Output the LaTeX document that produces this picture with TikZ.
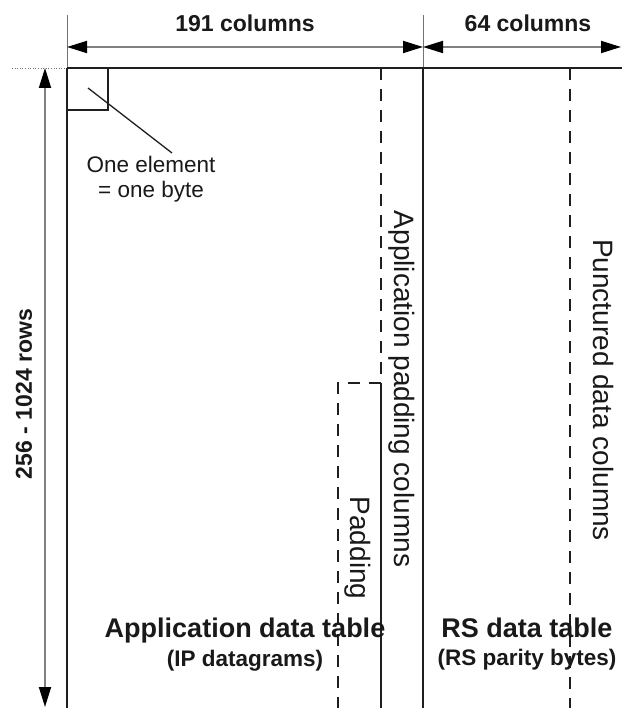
\documentclass[tikz,border=0pt]{standalone}
\usepackage{fontspec}
\setmainfont{Liberation Sans}
\usetikzlibrary{arrows.meta}
\begin{document}
\begin{tikzpicture}[x=1pt,y=-1pt,
  >={Triangle[length=20pt,width=12pt,color=black]},
  tblline/.style={draw=black!88, line width=2.4pt},
  thinline/.style={draw=black!88, line width=1.8pt},
  dashline/.style={draw=black!88, line width=2.2pt, dash pattern=on 12pt off 9pt},
  dimline/.style={draw=black!50, line width=1.8pt, <->},
  extline/.style={draw=black!55, line width=0.6pt},
  lbl/.style={inner sep=0pt, text=black!90},
  bigsz/.style={font=\fontsize{27}{30}\selectfont\bfseries},
  midsz/.style={font=\fontsize{23}{25}\selectfont\bfseries},
  subsz/.style={font=\fontsize{22.5}{25}\selectfont\bfseries},
  notesz/.style={font=\fontsize{22.5}{25}\selectfont},
  colsz/.style={font=\fontsize{28}{30}\selectfont}
]
\useasboundingbox (0,0) rectangle (622,708);
\fill[white] (0,0) rectangle (622,708);

% reference coordinates
\coordinate (tl) at (67,68);
\coordinate (tr) at (622,68);
\coordinate (bl) at (67,708);
\coordinate (mt) at (423,68);
\coordinate (mb) at (423,708);

% extension lines
\draw[extline] (67,15) -- (tl);
\draw[extline] (423,15) -- (mt);
\draw[extline, dotted] (12,68) -- (tl);

% dimension arrows
\coordinate (a1) at (67,47);
\coordinate (a2) at (423,47);
\coordinate (a3) at (621,47);
\draw[dimline] (a1) -- (a2);
\draw[dimline] (a2) -- (a3);
\coordinate (v1) at (45,68);
\coordinate (v2) at (45,707);
\draw[dimline] (v1) -- (v2);

% table frame
\draw[tblline] (tl) -- (tr);
\draw[tblline] (tl) -- (bl);
\draw[tblline, line width=2.8pt] (mt) -- (mb);

% element box and leader
\draw[thinline, line width=1.5pt] (67,110) -- (108,110) -- (108,68);
\coordinate (l1) at (88,88);
\coordinate (l2) at (172,153);
\draw[thinline, line width=1.3pt] (l1) -- (l2);

% application padding column
\coordinate (p1) at (381,68);
\coordinate (p2) at (381,383);
\coordinate (p3) at (381,708);
\draw[dashline] (p1) -- (p2);
\draw[thinline] (p2) -- (p3);
% padding box
\coordinate (q1) at (338,383);
\coordinate (q2) at (338,708);
\draw[dashline] (p2) -- (q1) -- (q2);

% punctured data column
\coordinate (r1) at (570,68);
\coordinate (r2) at (570,708);
\draw[dashline] (r1) -- (r2);

% labels
\node[lbl, midsz] (c191) at (245,23) {191 columns};
\node[lbl, midsz] (c64) at (528,23) {64 columns};
\node[lbl, midsz, rotate=90] (rows) at (24,394) {256 - 1024 rows};
\node[lbl, notesz, anchor=base] (one1) at (151,173) {One element};
\node[lbl, notesz, anchor=base] (one2) at (151,198) {= one byte};
\node[lbl, colsz, rotate=-90] (apc) at (402,389) {Application padding columns};
\node[lbl, colsz, rotate=-90] (pdc) at (603,390) {Punctured data columns};
\node[lbl, colsz, rotate=-90] (pad) at (358,548) {Padding};
\node[lbl, bigsz, anchor=base] (adt) at (245,637) {Application data table};
\node[lbl, subsz, anchor=base] (ipd) at (245,666) {(IP datagrams)};
\node[lbl, bigsz, anchor=base] (rsdt) at (527,637) {RS data table};
\node[lbl, subsz, anchor=base] (rspb) at (527,665) {(RS parity bytes)};
\end{tikzpicture}
\end{document}
